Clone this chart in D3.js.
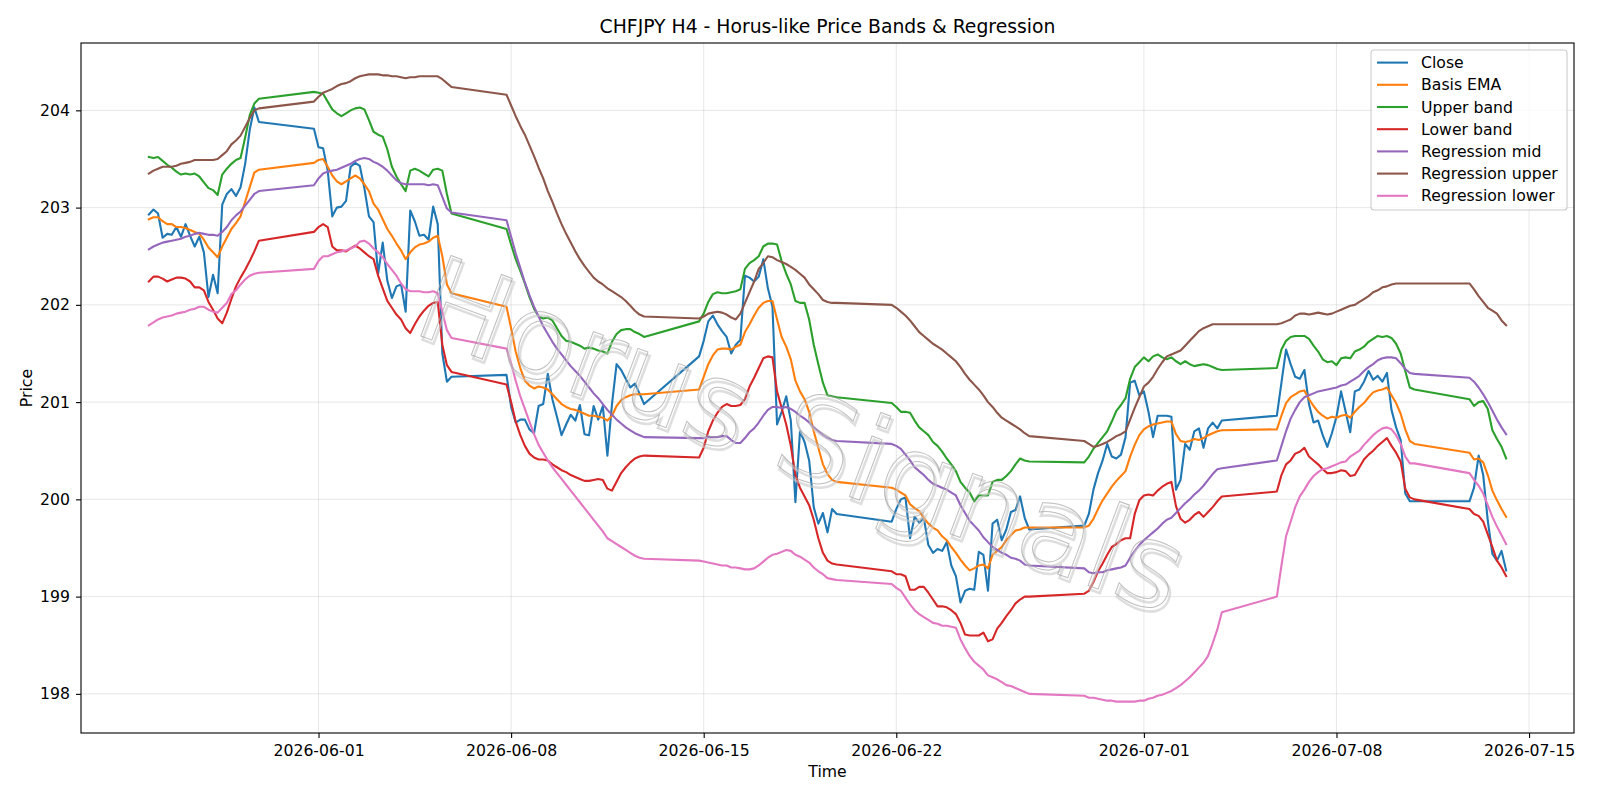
<!DOCTYPE html>
<html>
<head>
<meta charset="utf-8">
<title>CHFJPY H4 - Horus-like Price Bands &amp; Regression</title>
<script src="https://cdn.jsdelivr.net/npm/d3@7"></script>
<style>
	body { margin: 0; background: #fff; }
	svg { display: block; font-family: "DejaVu Sans", sans-serif; }
</style>
</head>
<body>
<svg id="chart" width="1600" height="800"></svg>
<script>
// trading sessions: first 4h bar (UTC) and number of bars in it
var sessions = [
	["2026-05-25T20:00:00Z", 25],
	["2026-05-31T20:00:00Z", 31],
	["2026-06-07T20:00:00Z", 31],
	["2026-06-14T20:00:00Z", 31],
	["2026-06-21T20:00:00Z", 31],
	["2026-06-28T20:00:00Z", 31],
	["2026-07-05T20:00:00Z", 31],
	["2026-07-12T20:00:00Z", 9]
];

var dateTicks = ["2026-06-01", "2026-06-08", "2026-06-15", "2026-06-22", "2026-07-01", "2026-07-08", "2026-07-15"];
var priceTicks = [198, 199, 200, 201, 202, 203, 204];

var closeValues = [
	202.93, 202.98, 202.94, 202.69, 202.73, 202.72, 202.80, 202.70, 202.83, 202.71, 202.60, 202.70, 202.54, 202.08, 202.31, 202.12, 203.03, 203.14, 203.19, 203.12, 203.21, 203.45, 203.80, 204.03, 203.88,
	203.81, 203.62, 203.61, 203.38, 202.91, 203.00, 203.01, 203.07, 203.42, 203.46, 203.43, 203.20, 202.91, 202.85, 202.32, 202.64, 202.25, 202.07, 202.19, 202.21, 201.93, 202.97, 202.86, 202.71, 202.72, 202.67, 203.01, 202.83, 201.50, 201.21, 201.26,
	201.28, 200.95, 200.79, 200.82, 200.82, 200.72, 200.68, 200.96, 200.98, 201.29, 201.03, 200.85, 200.66, 200.77, 200.87, 200.81, 200.97, 200.67, 200.66, 200.96, 200.82, 200.96, 200.45, 200.98, 201.39, 201.33, 201.24, 201.15, 201.19, 201.09, 200.98,
	201.47, 201.63, 201.83, 201.89, 201.80, 201.73, 201.67, 201.50, 201.59, 201.64, 202.30, 202.28, 202.24, 202.29, 202.47, 202.17, 201.98, 200.77, 200.90, 201.06, 200.81, 199.97, 200.70, 200.59, 200.40, 199.92, 199.75, 199.86, 199.66, 199.90, 199.85,
	199.77, 199.90, 200.00, 200.02, 199.60, 199.82, 199.76, 199.81, 199.53, 199.45, 199.49, 199.47, 199.56, 199.32, 199.21, 198.94, 199.06, 199.08, 199.07, 199.46, 199.43, 199.06, 199.75, 199.79, 199.58, 199.69, 199.87, 199.89, 200.03, 199.81, 199.69,
	199.73, 199.85, 200.10, 200.27, 200.40, 200.57, 200.44, 200.42, 200.46, 200.64, 201.20, 201.22, 201.07, 201.11, 200.90, 200.64, 200.86, 200.86, 200.86, 200.85, 200.10, 200.20, 200.57, 200.51, 200.70, 200.73, 200.53, 200.73, 200.79, 200.73, 200.81,
	200.86, 201.20, 201.54, 201.39, 201.26, 201.24, 201.33, 200.98, 200.79, 200.81, 200.66, 200.54, 200.68, 200.85, 201.11, 200.90, 200.69, 201.11, 201.13, 201.21, 201.32, 201.23, 201.27, 201.21, 201.30, 200.92, 200.74, 200.61, 200.06, 199.98, 199.98,
	199.98, 200.12, 200.45, 200.25, 199.78, 199.44, 199.37, 199.47, 199.27
];

var basisEma = [
	202.88, 202.90, 202.90, 202.86, 202.83, 202.83, 202.80, 202.80, 202.79, 202.77, 202.75, 202.73, 202.67, 202.59, 202.54, 202.49, 202.60, 202.69, 202.78, 202.84, 202.91, 203.06, 203.21, 203.36, 203.39,
	203.46, 203.49, 203.50, 203.42, 203.33, 203.27, 203.24, 203.27, 203.30, 203.33, 203.30, 203.24, 203.17, 203.04, 202.98, 202.88, 202.78, 202.71, 202.63, 202.56, 202.47, 202.54, 202.59, 202.62, 202.63, 202.65, 202.69, 202.71, 202.50, 202.21, 202.12,
	201.98, 201.76, 201.52, 201.35, 201.22, 201.17, 201.14, 201.16, 201.15, 201.13, 201.08, 201.03, 200.98, 200.95, 200.93, 200.92, 200.90, 200.88, 200.86, 200.86, 200.85, 200.84, 200.81, 200.86, 200.96, 201.02, 201.05, 201.07, 201.08, 201.08, 201.08,
	201.13, 201.26, 201.39, 201.48, 201.54, 201.55, 201.55, 201.54, 201.57, 201.59, 201.72, 201.80, 201.89, 201.97, 202.02, 202.04, 202.04, 201.85, 201.67, 201.57, 201.44, 201.22, 201.11, 201.03, 200.90, 200.70, 200.53, 200.36, 200.26, 200.20, 200.18,
	200.12, 200.10, 200.07, 200.04, 199.95, 199.91, 199.88, 199.81, 199.75, 199.71, 199.68, 199.62, 199.58, 199.51, 199.45, 199.38, 199.32, 199.27, 199.29, 199.32, 199.33, 199.29, 199.43, 199.47, 199.51, 199.58, 199.63, 199.68, 199.69, 199.71, 199.71,
	199.71, 199.73, 199.80, 199.90, 199.99, 200.06, 200.13, 200.19, 200.24, 200.29, 200.44, 200.56, 200.66, 200.72, 200.75, 200.77, 200.78, 200.79, 200.80, 200.80, 200.67, 200.60, 200.59, 200.60, 200.62, 200.61, 200.63, 200.66, 200.68, 200.70, 200.71,
	200.72, 200.86, 200.99, 201.05, 201.08, 201.11, 201.12, 201.03, 200.96, 200.90, 200.86, 200.83, 200.85, 200.84, 200.86, 200.87, 200.84, 200.90, 200.95, 200.99, 201.05, 201.10, 201.12, 201.13, 201.15, 201.07, 200.99, 200.88, 200.72, 200.60, 200.57,
	200.48, 200.41, 200.42, 200.38, 200.25, 200.09, 199.99, 199.90, 199.82
];

var upperBand = [
	203.52, 203.51, 203.52, 203.48, 203.44, 203.41, 203.37, 203.34, 203.35, 203.34, 203.35, 203.32, 203.26, 203.20, 203.18, 203.13, 203.34, 203.40, 203.45, 203.49, 203.51, 203.72, 203.95, 204.07, 204.12,
	204.19, 204.18, 204.17, 204.09, 204.01, 203.97, 203.94, 203.97, 204.00, 204.02, 204.03, 204.01, 203.90, 203.78, 203.75, 203.73, 203.60, 203.42, 203.32, 203.24, 203.17, 203.38, 203.40, 203.38, 203.35, 203.32, 203.39, 203.40, 203.38, 203.14, 202.94,
	202.78, 202.62, 202.47, 202.35, 202.22, 202.08, 201.96, 201.88, 201.86, 201.87, 201.84, 201.76, 201.68, 201.63, 201.62, 201.60, 201.58, 201.55, 201.56, 201.55, 201.53, 201.52, 201.50, 201.62, 201.70, 201.74, 201.75, 201.75, 201.72, 201.70, 201.67,
	201.83, 201.91, 202.03, 202.11, 202.13, 202.12, 202.12, 202.13, 202.14, 202.16, 202.37, 202.43, 202.46, 202.50, 202.60, 202.63, 202.63, 202.62, 202.45, 202.32, 202.21, 202.04, 202.02, 202.02, 201.85, 201.59, 201.39, 201.20, 201.07, 201.06, 201.05,
	200.99, 200.95, 200.90, 200.90, 200.89, 200.81, 200.74, 200.70, 200.66, 200.59, 200.55, 200.49, 200.42, 200.36, 200.29, 200.18, 200.12, 200.07, 199.98, 200.04, 200.04, 200.04, 200.18, 200.20, 200.20, 200.24, 200.29, 200.36, 200.42, 200.40, 200.39,
	200.38, 200.44, 200.52, 200.58, 200.64, 200.70, 200.80, 200.91, 200.97, 201.04, 201.24, 201.36, 201.41, 201.46, 201.42, 201.47, 201.49, 201.46, 201.44, 201.46, 201.42, 201.39, 201.42, 201.39, 201.37, 201.38, 201.39, 201.38, 201.36, 201.34, 201.33,
	201.35, 201.54, 201.63, 201.67, 201.68, 201.68, 201.68, 201.65, 201.58, 201.52, 201.44, 201.41, 201.42, 201.38, 201.45, 201.46, 201.45, 201.52, 201.54, 201.57, 201.62, 201.65, 201.68, 201.67, 201.68, 201.66, 201.60, 201.50, 201.32, 201.15, 201.13,
	201.03, 200.96, 201.00, 201.01, 200.93, 200.71, 200.62, 200.54, 200.42
];

var lowerBand = [
	202.24, 202.29, 202.29, 202.27, 202.24, 202.26, 202.28, 202.28, 202.27, 202.24, 202.18, 202.18, 202.15, 202.03, 201.95, 201.86, 201.81, 201.92, 202.06, 202.19, 202.28, 202.36, 202.45, 202.55, 202.66,
	202.75, 202.80, 202.83, 202.80, 202.60, 202.56, 202.56, 202.55, 202.58, 202.61, 202.58, 202.54, 202.50, 202.47, 202.30, 202.17, 202.04, 201.97, 201.90, 201.85, 201.76, 201.71, 201.80, 201.88, 201.94, 201.99, 202.02, 202.03, 201.59, 201.38, 201.31,
	201.18, 201.00, 200.80, 200.66, 200.55, 200.47, 200.43, 200.41, 200.41, 200.40, 200.36, 200.33, 200.30, 200.28, 200.25, 200.23, 200.21, 200.19, 200.19, 200.20, 200.21, 200.20, 200.11, 200.09, 200.18, 200.27, 200.33, 200.38, 200.42, 200.44, 200.45,
	200.43, 200.53, 200.70, 200.81, 200.89, 200.95, 200.98, 200.96, 200.96, 200.97, 201.03, 201.16, 201.25, 201.35, 201.45, 201.47, 201.46, 201.11, 200.94, 200.77, 200.55, 200.25, 200.12, 200.03, 199.94, 199.79, 199.60, 199.45, 199.37, 199.34, 199.33,
	199.26, 199.23, 199.23, 199.21, 199.07, 199.07, 199.10, 199.10, 199.04, 198.97, 198.90, 198.90, 198.89, 198.86, 198.82, 198.73, 198.61, 198.60, 198.60, 198.60, 198.63, 198.54, 198.56, 198.67, 198.73, 198.80, 198.86, 198.93, 198.97, 199.00, 199.00,
	199.03, 199.06, 199.15, 199.26, 199.34, 199.43, 199.51, 199.54, 199.58, 199.60, 199.60, 199.85, 199.99, 200.04, 200.05, 200.04, 200.09, 200.13, 200.16, 200.18, 199.93, 199.80, 199.76, 199.79, 199.84, 199.87, 199.82, 199.87, 199.92, 199.98, 200.03,
	200.08, 200.25, 200.36, 200.40, 200.47, 200.49, 200.53, 200.44, 200.40, 200.36, 200.31, 200.27, 200.27, 200.28, 200.30, 200.29, 200.24, 200.25, 200.33, 200.41, 200.46, 200.50, 200.55, 200.59, 200.63, 200.55, 200.48, 200.39, 200.11, 200.02, 200.00,
	199.90, 199.85, 199.83, 199.77, 199.64, 199.51, 199.37, 199.30, 199.21
];

var regressionMid = [
	202.57, 202.60, 202.62, 202.64, 202.65, 202.66, 202.67, 202.68, 202.70, 202.71, 202.73, 202.74, 202.73, 202.72, 202.72, 202.71, 202.75, 202.80, 202.87, 202.92, 202.96, 203.02, 203.08, 203.14, 203.17,
	203.23, 203.30, 203.35, 203.37, 203.38, 203.39, 203.41, 203.43, 203.45, 203.48, 203.50, 203.51, 203.50, 203.47, 203.45, 203.42, 203.38, 203.33, 203.28, 203.25, 203.24, 203.24, 203.24, 203.24, 203.24, 203.23, 203.24, 203.23, 203.11, 202.99, 202.95,
	202.87, 202.70, 202.53, 202.38, 202.23, 202.10, 201.98, 201.88, 201.78, 201.70, 201.62, 201.55, 201.49, 201.43, 201.37, 201.32, 201.27, 201.21, 201.15, 201.09, 201.04, 200.98, 200.92, 200.87, 200.82, 200.78, 200.74, 200.71, 200.68, 200.66, 200.64,
	200.63, 200.63, 200.64, 200.64, 200.64, 200.65, 200.65, 200.61, 200.58, 200.58, 200.63, 200.69, 200.73, 200.79, 200.86, 200.92, 200.95, 200.95, 200.94, 200.95, 200.93, 200.90, 200.86, 200.83, 200.79, 200.74, 200.70, 200.66, 200.63, 200.61, 200.60,
	200.57, 200.55, 200.52, 200.46, 200.40, 200.33, 200.29, 200.25, 200.20, 200.16, 200.14, 200.12, 200.10, 200.07, 200.04, 199.94, 199.86, 199.78, 199.73, 199.68, 199.61, 199.56, 199.51, 199.48, 199.45, 199.43, 199.40, 199.39, 199.37, 199.33, 199.32,
	199.29, 199.25, 199.24, 199.25, 199.25, 199.27, 199.28, 199.29, 199.30, 199.32, 199.40, 199.47, 199.53, 199.58, 199.62, 199.66, 199.70, 199.75, 199.79, 199.81, 199.86, 199.91, 199.96, 200.00, 200.05, 200.09, 200.14, 200.20, 200.26, 200.31, 200.32,
	200.40, 200.55, 200.70, 200.83, 200.92, 201.00, 201.05, 201.07, 201.09, 201.11, 201.12, 201.13, 201.14, 201.15, 201.17, 201.18, 201.21, 201.24, 201.27, 201.32, 201.36, 201.39, 201.43, 201.45, 201.46, 201.46, 201.45, 201.40, 201.34, 201.30, 201.29,
	201.25, 201.21, 201.15, 201.08, 201.00, 200.91, 200.82, 200.74, 200.67
];

var regressionUpper = [
	203.35, 203.38, 203.40, 203.42, 203.42, 203.42, 203.43, 203.45, 203.46, 203.47, 203.49, 203.49, 203.49, 203.49, 203.49, 203.50, 203.54, 203.58, 203.65, 203.69, 203.74, 203.83, 203.92, 204.00, 204.02,
	204.09, 204.14, 204.18, 204.20, 204.22, 204.25, 204.27, 204.28, 204.30, 204.33, 204.35, 204.36, 204.37, 204.37, 204.37, 204.36, 204.36, 204.35, 204.35, 204.34, 204.33, 204.34, 204.34, 204.35, 204.35, 204.35, 204.35, 204.35, 204.32, 204.28, 204.24,
	204.16, 204.05, 203.94, 203.84, 203.75, 203.64, 203.53, 203.41, 203.30, 203.17, 203.06, 202.94, 202.83, 202.73, 202.64, 202.55, 202.47, 202.40, 202.34, 202.28, 202.24, 202.21, 202.17, 202.14, 202.11, 202.08, 202.04, 201.99, 201.94, 201.90, 201.88,
	201.86, 201.88, 201.91, 201.92, 201.93, 201.92, 201.90, 201.87, 201.85, 201.91, 202.02, 202.13, 202.24, 202.37, 202.43, 202.50, 202.49, 202.46, 202.44, 202.42, 202.39, 202.36, 202.32, 202.28, 202.21, 202.16, 202.11, 202.05, 202.03, 202.02, 202.02,
	202.00, 201.97, 201.93, 201.89, 201.84, 201.78, 201.72, 201.68, 201.64, 201.60, 201.57, 201.54, 201.50, 201.46, 201.42, 201.36, 201.29, 201.23, 201.18, 201.13, 201.07, 201.00, 200.95, 200.89, 200.84, 200.81, 200.78, 200.75, 200.72, 200.68, 200.65,
	200.60, 200.57, 200.54, 200.55, 200.57, 200.59, 200.62, 200.65, 200.67, 200.70, 200.82, 200.94, 201.05, 201.16, 201.20, 201.26, 201.34, 201.41, 201.47, 201.49, 201.51, 201.53, 201.58, 201.63, 201.68, 201.73, 201.76, 201.78, 201.80, 201.80, 201.80,
	201.80, 201.81, 201.83, 201.85, 201.89, 201.91, 201.91, 201.90, 201.91, 201.92, 201.91, 201.90, 201.91, 201.93, 201.95, 201.97, 201.99, 202.00, 202.03, 202.06, 202.09, 202.13, 202.15, 202.18, 202.19, 202.21, 202.22, 202.22, 202.22, 202.22, 202.22,
	202.22, 202.16, 202.09, 202.03, 201.97, 201.94, 201.91, 201.84, 201.79
];

var regressionLower = [
	201.79, 201.82, 201.85, 201.87, 201.88, 201.89, 201.91, 201.92, 201.93, 201.95, 201.96, 201.98, 201.98, 201.95, 201.93, 201.92, 201.97, 202.02, 202.11, 202.15, 202.21, 202.26, 202.30, 202.32, 202.33,
	202.37, 202.45, 202.50, 202.50, 202.52, 202.54, 202.55, 202.56, 202.58, 202.60, 202.65, 202.66, 202.63, 202.58, 202.54, 202.49, 202.42, 202.36, 202.30, 202.22, 202.16, 202.14, 202.14, 202.14, 202.13, 202.13, 202.14, 202.12, 201.93, 201.74, 201.66,
	201.55, 201.40, 201.22, 201.06, 200.93, 200.80, 200.67, 200.56, 200.48, 200.40, 200.33, 200.27, 200.21, 200.15, 200.09, 200.03, 199.97, 199.91, 199.85, 199.79, 199.73, 199.67, 199.60, 199.57, 199.54, 199.51, 199.48, 199.45, 199.42, 199.40, 199.39,
	199.37, 199.36, 199.35, 199.34, 199.33, 199.32, 199.32, 199.30, 199.30, 199.29, 199.28, 199.28, 199.29, 199.32, 199.36, 199.40, 199.43, 199.44, 199.46, 199.48, 199.47, 199.43, 199.41, 199.38, 199.35, 199.30, 199.26, 199.23, 199.19, 199.18, 199.17,
	199.13, 199.09, 199.06, 198.99, 198.92, 198.86, 198.82, 198.79, 198.76, 198.73, 198.72, 198.70, 198.70, 198.69, 198.68, 198.56, 198.47, 198.39, 198.33, 198.29, 198.25, 198.19, 198.17, 198.15, 198.12, 198.09, 198.08, 198.06, 198.04, 198.02, 198.00,
	197.98, 197.96, 197.96, 197.95, 197.94, 197.93, 197.93, 197.92, 197.92, 197.92, 197.92, 197.92, 197.93, 197.93, 197.95, 197.96, 197.98, 197.99, 198.01, 198.03, 198.06, 198.09, 198.13, 198.17, 198.22, 198.27, 198.32, 198.39, 198.52, 198.66, 198.84,
	199.00, 199.32, 199.62, 199.77, 199.92, 200.03, 200.10, 200.18, 200.24, 200.28, 200.31, 200.32, 200.34, 200.36, 200.38, 200.39, 200.44, 200.47, 200.50, 200.56, 200.61, 200.66, 200.70, 200.73, 200.74, 200.72, 200.66, 200.57, 200.44, 200.37, 200.37,
	200.27, 200.20, 200.14, 200.06, 199.94, 199.82, 199.72, 199.63, 199.54
];

var PriceChart = (function() {
	"use strict";

	var fontSize = 15.7,
		frame = {
			left: 81,
			right: 1574,
			top: 43,
			bottom: 733
		},
		svg,
		times,
		series,
		xScale,
		yScale;

	function buildTimes() {
		var out = [];
		sessions.forEach(function(s) {
			var start = new Date(s[0]);
			for (var i = 0; i < s[1]; ++i) {
				out.push(d3.utcHour.offset(start, 4 * i));
			}
		});
		return out;
	}

	// matplotlib style: data extent plus 5% on each side
	function padded(extent) {
		var pad = (extent[1] - extent[0]) * 0.05;
		return [extent[0] - pad, extent[1] + pad];
	}

	function create() {
		svg = d3.select("#chart");
		times = buildTimes();
		series = [
			{ name: "Close", values: closeValues, color: "#1f77b4" },
			{ name: "Basis EMA", values: basisEma, color: "#ff7f0e" },
			{ name: "Upper band", values: upperBand, color: "#2ca02c" },
			{ name: "Lower band", values: lowerBand, color: "#d62728" },
			{ name: "Regression mid", values: regressionMid, color: "#9467bd" },
			{ name: "Regression upper", values: regressionUpper, color: "#8c564b" },
			{ name: "Regression lower", values: regressionLower, color: "#e377c2" }
		];

		var tExtent = d3.extent(times).map(Number),
			tPad = (tExtent[1] - tExtent[0]) * 0.05;
		xScale = d3.scaleUtc()
			.domain([new Date(tExtent[0] - tPad), new Date(tExtent[1] + tPad)])
			.range([frame.left, frame.right]);

		var allValues = d3.merge(series.map(function(s) { return s.values; }));
		yScale = d3.scaleLinear()
			.domain(padded(d3.extent(allValues)))
			.range([frame.bottom, frame.top]);

		svg.append("rect")
			.attr("width", 1600)
			.attr("height", 800)
			.attr("fill", "#fff");

		drawGrid();
		drawLines();
		drawWatermark();
		drawAxes();
		drawLegend();
		drawLabels();
	}

	function drawGrid() {
		var grid = svg.append("g")
			.attr("stroke", "#b0b0b0")
			.attr("stroke-opacity", 0.3)
			.attr("stroke-width", 1);

		grid.selectAll("line.gx")
			.data(dateTicks)
			.enter().append("line")
				.attr("class", "gx")
				.attr("x1", function(d) { return xScale(new Date(d + "T00:00:00Z")); })
				.attr("x2", function(d) { return xScale(new Date(d + "T00:00:00Z")); })
				.attr("y1", frame.top)
				.attr("y2", frame.bottom);

		grid.selectAll("line.gy")
			.data(priceTicks)
			.enter().append("line")
				.attr("class", "gy")
				.attr("x1", frame.left)
				.attr("x2", frame.right)
				.attr("y1", function(d) { return yScale(d); })
				.attr("y2", function(d) { return yScale(d); });
	}

	function drawLines() {
		var line = d3.line()
			.x(function(d, i) { return xScale(times[i]); })
			.y(function(d) { return yScale(d); });

		svg.append("g")
			.selectAll("path")
			.data(series)
			.enter().append("path")
				.attr("d", function(s) { return line(s.values); })
				.attr("fill", "none")
				.attr("stroke", function(s) { return s.color; })
				.attr("stroke-width", 2.1)
				.attr("stroke-linejoin", "round")
				.attr("stroke-linecap", "square");
	}

	function drawWatermark() {
		var g = svg.append("g")
			.attr("transform", "translate(803,433) rotate(20.5)")
			.attr("font-size", 118)
			.attr("text-anchor", "middle");

		// soft shadow, then the outlined letters
		g.append("text")
			.attr("x", 3)
			.attr("y", 46)
			.attr("fill", "none")
			.attr("stroke", "#c8c8c8")
			.attr("stroke-opacity", 0.6)
			.attr("stroke-width", 2.5)
			.text("Horus Signals");

		g.append("text")
			.attr("y", 43)
			.attr("fill", "none")
			.attr("stroke", "#a4a4a4")
			.attr("stroke-opacity", 0.7)
			.attr("stroke-width", 1)
			.text("Horus Signals");
	}

	function drawAxes() {
		var yAxis = d3.axisLeft(yScale)
			.tickValues(priceTicks)
			.tickFormat(d3.format("d"))
			.tickSize(5)
			.tickPadding(6);

		var xAxis = d3.axisBottom(xScale)
			.tickValues(dateTicks.map(function(d) { return new Date(d + "T00:00:00Z"); }))
			.tickFormat(d3.utcFormat("%Y-%m-%d"))
			.tickSize(5)
			.tickPadding(7);

		svg.append("g")
			.attr("transform", "translate(" + frame.left + ",0)")
			.call(yAxis)
			.call(styleAxis);

		svg.append("g")
			.attr("transform", "translate(0," + frame.bottom + ")")
			.call(xAxis)
			.call(styleAxis);

		svg.append("rect")
			.attr("x", frame.left)
			.attr("y", frame.top)
			.attr("width", frame.right - frame.left)
			.attr("height", frame.bottom - frame.top)
			.attr("fill", "none")
			.attr("stroke", "#000")
			.attr("stroke-width", 1.1);
	}

	function styleAxis(g) {
		g.attr("font-family", null).attr("font-size", null);
		g.select(".domain").remove();
		g.selectAll(".tick line")
			.attr("stroke", "#000")
			.attr("stroke-width", 1.1);
		g.selectAll(".tick text")
			.attr("fill", "#000")
			.style("font-size", fontSize + "px");
	}

	function drawLegend() {
		var box = { x: 1371, y: 50, w: 196, h: 160 },
			rowY = function(i) { return 62.6 + i * 22.2; },
			legend = svg.append("g");

		legend.append("rect")
			.attr("x", box.x)
			.attr("y", box.y)
			.attr("width", box.w)
			.attr("height", box.h)
			.attr("rx", 3)
			.attr("fill", "#fff")
			.attr("fill-opacity", 0.8)
			.attr("stroke", "#cccccc")
			.attr("stroke-width", 1.1);

		var row = legend.selectAll("g.entry")
			.data(series)
			.enter().append("g")
				.attr("class", "entry")
				.attr("transform", function(d, i) { return "translate(0," + rowY(i) + ")"; });

		row.append("line")
			.attr("x1", 1377)
			.attr("x2", 1408)
			.attr("stroke", function(d) { return d.color; })
			.attr("stroke-width", 2.1);

		row.append("text")
			.attr("x", 1421)
			.attr("y", 5.5)
			.style("font-size", fontSize + "px")
			.text(function(d) { return d.name; });
	}

	function drawLabels() {
		svg.append("text")
			.attr("x", (frame.left + frame.right) / 2)
			.attr("y", 32.5)
			.attr("text-anchor", "middle")
			.style("font-size", "18.8px")
			.text("CHFJPY H4 - Horus-like Price Bands & Regression");

		svg.append("text")
			.attr("x", (frame.left + frame.right) / 2)
			.attr("y", 777)
			.attr("text-anchor", "middle")
			.style("font-size", fontSize + "px")
			.text("Time");

		svg.append("text")
			.attr("transform", "translate(32," + (frame.top + frame.bottom) / 2 + ") rotate(-90)")
			.attr("text-anchor", "middle")
			.style("font-size", fontSize + "px")
			.text("Price");
	}

	return {
		create: create
	};
})();

PriceChart.create();
</script>
</body>
</html>
